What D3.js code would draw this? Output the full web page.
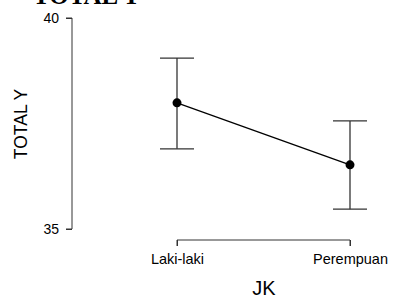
<!DOCTYPE html>
<html>
<head>
<meta charset="utf-8">
<script src="https://cdn.jsdelivr.net/npm/d3@7"></script>
<style>
  body { margin: 0; background: #fff; }
  svg { display: block; }
</style>
</head>
<body>
<div id="chart"></div>
<script>
var categories = ['Laki-laki', 'Perempuan'];
var means = [37.99, 36.52];
var upper = [39.05, 37.56];
var lower = [36.90, 35.47];
var yTicks = [35, 40];

var width = 394, height = 302;

var svg = d3.select('#chart')
	.append('svg')
	.attr('width', width)
	.attr('height', height);

var x = d3.scalePoint()
	.domain(categories)
	.range([177, 350]);

var y = d3.scaleLinear()
	.domain([35, 40])
	.range([229, 18]);

var data = categories.map(function(c, i) {
	return {cat: c, mean: means[i], hi: upper[i], lo: lower[i]};
});

// title, mostly cut off at the top
svg.append('text')
	.attr('x', 33)
	.attr('y', 4)
	.style('font-family', 'Liberation Serif, Times New Roman, serif')
	.style('font-weight', 'bold')
	.style('font-size', '25px')
	.text('TOTAL Y');

// y axis
var yAxis = svg.append('g')
	.attr('transform', 'translate(72,0)')
	.call(d3.axisLeft(y).tickValues(yTicks).tickFormat(d3.format('d')).tickSize(6).tickPadding(7));
yAxis.select('.domain').attr('d', 'M-6,' + y(40) + 'H0V' + y(35) + 'H-6');
yAxis.selectAll('line, path').attr('stroke', '#333');
yAxis.selectAll('text')
	.style('font-family', 'Liberation Sans, Arial, sans-serif')
	.style('font-size', '14px')
	.attr('fill', '#000');

svg.append('text')
	.attr('transform', 'rotate(-90)')
	.attr('x', -124)
	.attr('y', 27)
	.style('text-anchor', 'middle')
	.style('font-family', 'Liberation Sans, Arial, sans-serif')
	.style('font-size', '17.5px')
	.text('TOTAL Y');

// x axis
var xAxis = svg.append('g')
	.attr('transform', 'translate(0,240)')
	.call(d3.axisBottom(x).tickSize(6).tickPadding(8));
xAxis.select('.domain').attr('d', 'M' + x(categories[0]) + ',6V0H' + x(categories[1]) + 'V6');
xAxis.selectAll('line, path').attr('stroke', '#333');
xAxis.selectAll('text')
	.style('font-family', 'Liberation Sans, Arial, sans-serif')
	.style('font-size', '14.5px')
	.attr('fill', '#000');

svg.append('text')
	.attr('x', 264)
	.attr('y', 295)
	.style('text-anchor', 'middle')
	.style('font-family', 'Liberation Sans, Arial, sans-serif')
	.style('font-size', '20px')
	.text('JK');

// error bars
var bars = svg.append('g');
bars.selectAll('.vbar')
	.data(data)
	.enter()
	.append('line')
	.attr('x1', function(d) {return x(d.cat);})
	.attr('x2', function(d) {return x(d.cat);})
	.attr('y1', function(d) {return y(d.hi);})
	.attr('y2', function(d) {return y(d.lo);})
	.attr('stroke', '#333')
	.attr('stroke-width', 1.3);

['hi', 'lo'].forEach(function(k) {
	bars.selectAll('.cap-' + k)
		.data(data)
		.enter()
		.append('line')
		.attr('x1', function(d) {return x(d.cat) - 17;})
		.attr('x2', function(d) {return x(d.cat) + 17;})
		.attr('y1', function(d) {return y(d[k]);})
		.attr('y2', function(d) {return y(d[k]);})
		.attr('stroke', '#333')
		.attr('stroke-width', 1.3);
});

var line = d3.line()
	.x(function(d) {return x(d.cat);})
	.y(function(d) {return y(d.mean);});

svg.append('path')
	.datum(data)
	.attr('d', line)
	.style('fill', 'none')
	.style('stroke', '#000')
	.style('stroke-width', 1.3);

svg.selectAll('.pt')
	.data(data)
	.enter()
	.append('circle')
	.attr('r', 4.5)
	.attr('cx', function(d) {return x(d.cat);})
	.attr('cy', function(d) {return y(d.mean);})
	.style('fill', '#000');
</script>
</body>
</html>
